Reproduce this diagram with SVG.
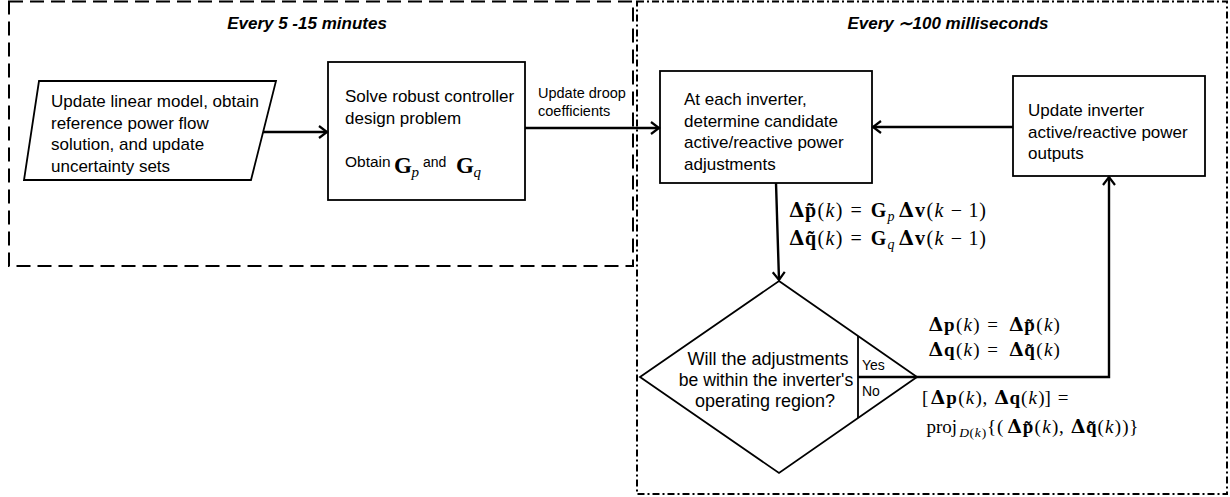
<svg xmlns="http://www.w3.org/2000/svg" width="1230" height="497" viewBox="0 0 1230 497">
<style>
.box{fill:#fff;stroke:#000;stroke-width:1.8}
.frame{fill:none;stroke:#000;stroke-width:2}
.conn{fill:none;stroke:#000;stroke-width:2.4}
.sep{fill:none;stroke:#000;stroke-width:1.8}
.t{font-family:"Liberation Sans",Arial,sans-serif;font-size:17px;fill:#000}
.title{font-family:"Liberation Sans",Arial,sans-serif;font-size:17px;font-weight:bold;font-style:italic;fill:#000}
.m{font-family:"Liberation Serif","Times New Roman",serif;font-size:19px;fill:#000}
.D{font-family:"DejaVu Serif",serif;font-weight:bold;font-style:normal}
.b{font-weight:bold}
.i{font-style:italic}
</style>
<defs>
<marker id="ah" markerUnits="userSpaceOnUse" markerWidth="14" markerHeight="20" viewBox="-12 -10 14 20" refX="0" refY="0" orient="auto">
<path d="M-8,-6 L0,0 L-8,6" fill="none" stroke="#000" stroke-width="2.2"/>
</marker>
</defs>

<g id="frame-slow">
<rect class="frame" x="9" y="1.5" width="624" height="264.5" stroke-dasharray="14 7"/>
<text class="title" x="307" y="29" text-anchor="middle">Every 5 -15 minutes</text>
</g>
<g id="frame-fast">
<rect class="frame" x="637" y="1.5" width="590" height="492.5" stroke-dasharray="7 3 2 3"/>
<text class="title" x="948" y="29" text-anchor="middle">Every ∼100 milliseconds</text>
</g>

<g id="update-model">
<polygon class="box" points="39,81 276,81 251,180 24,180"/>
<text class="t" x="51" y="107">Update linear model, obtain</text>
<text class="t" x="51" y="128.5">reference power flow</text>
<text class="t" x="51" y="150">solution, and update</text>
<text class="t" x="51" y="171.5">uncertainty sets</text>
</g>

<g id="solve">
<rect class="box" x="328" y="62" width="197" height="138"/>
<text class="t" x="345" y="102">Solve robust controller</text>
<text class="t" x="345" y="123.5">design problem</text>
<text class="t" x="345" y="167" style="font-size:15.5px">Obtain</text>
<text class="m" y="173"><tspan x="394" class="b" style="font-size:23px">G</tspan><tspan x="411.5" class="i" style="font-size:15px" dy="4">p</tspan></text>
<text class="t" x="423" y="166.5" style="font-size:14px">and</text>
<text class="m" y="173"><tspan x="456" class="b" style="font-size:23px">G</tspan><tspan x="473.5" class="i" style="font-size:15px" dy="4">q</tspan></text>
</g>

<g id="candidate">
<rect class="box" x="660" y="71" width="212" height="112"/>
<text class="t" x="684" y="105">At each inverter,</text>
<text class="t" x="684" y="126.5">determine candidate</text>
<text class="t" x="684" y="148">active/reactive power</text>
<text class="t" x="684" y="169.5">adjustments</text>
</g>

<g id="update-outputs">
<rect class="box" x="1013" y="76" width="192" height="100"/>
<text class="t" x="1028" y="116">Update inverter</text>
<text class="t" x="1028" y="137.5">active/reactive power</text>
<text class="t" x="1028" y="159">outputs</text>
</g>

<g id="decision">
<polygon class="box" points="779,281 917,377 779,473 640,377"/>
<line class="sep" x1="858" y1="336" x2="858" y2="418"/>
<line class="conn" x1="858" y1="377" x2="917" y2="377"/>
<text class="t" x="768" y="365" text-anchor="middle" style="font-size:18px">Will the adjustments</text>
<text class="t" x="766" y="386" text-anchor="middle" style="font-size:17.6px">be within the inverter's</text>
<text class="t" x="765" y="407" text-anchor="middle" style="font-size:18px">operating region?</text>
<text class="t" x="862" y="370" style="font-size:14px">Yes</text>
<text class="t" x="862" y="396" style="font-size:14px">No</text>
</g>

<g id="connectors">
<path class="conn" d="M263,132 H327" marker-end="url(#ah)"/>
<path class="conn" d="M525,128 H659" marker-end="url(#ah)"/>
<path class="conn" d="M1013,127 H873" marker-end="url(#ah)"/>
<path class="conn" d="M776,183 L779,280" marker-end="url(#ah)"/>
<path class="conn" d="M917,377 H1109 V177" marker-end="url(#ah)"/>
<text class="t" x="538" y="97.5" style="font-size:14.5px">Update droop</text>
<text class="t" x="538" y="116" style="font-size:14.5px">coefficients</text>
</g>

<g id="labels-math">
<text class="m" style="font-size:20px" y="217"><tspan x="789" class="D">Δ</tspan><tspan x="805" class="b">p&#x303;</tspan><tspan x="817.5">(</tspan><tspan x="825.5" class="i">k</tspan><tspan x="835.7">)</tspan><tspan x="850.6">=</tspan><tspan x="870.8" class="b">G</tspan><tspan x="887.6" class="i" style="font-size:14px" dy="4">p</tspan><tspan x="898.5" dy="-4" class="D">Δ</tspan><tspan x="914.9" class="b">v</tspan><tspan x="926.5">(</tspan><tspan x="934.6" class="i">k</tspan><tspan x="950.8">−</tspan><tspan x="968.6">1</tspan><tspan x="979.2">)</tspan></text>
<text class="m" style="font-size:20px" y="245"><tspan x="789" class="D">Δ</tspan><tspan x="805" class="b">q&#x303;</tspan><tspan x="817.5">(</tspan><tspan x="825.5" class="i">k</tspan><tspan x="835.7">)</tspan><tspan x="850.6">=</tspan><tspan x="870.8" class="b">G</tspan><tspan x="887.6" class="i" style="font-size:14px" dy="4">q</tspan><tspan x="898.5" dy="-4" class="D">Δ</tspan><tspan x="914.9" class="b">v</tspan><tspan x="926.5">(</tspan><tspan x="934.6" class="i">k</tspan><tspan x="950.8">−</tspan><tspan x="968.6">1</tspan><tspan x="979.2">)</tspan></text>

<text class="m" y="331"><tspan x="928.5" class="D">Δ</tspan><tspan x="944" class="b">p</tspan><tspan x="955.9">(</tspan><tspan x="963.5" class="i">k</tspan><tspan x="973.2">)</tspan><tspan x="987.3">=</tspan><tspan x="1009" class="D">Δ</tspan><tspan x="1024.3" class="b">p&#x303;</tspan><tspan x="1036.2">(</tspan><tspan x="1043.9" class="i">k</tspan><tspan x="1053.5">)</tspan></text>
<text class="m" y="356"><tspan x="928.5" class="D">Δ</tspan><tspan x="944" class="b">q</tspan><tspan x="955.9">(</tspan><tspan x="963.5" class="i">k</tspan><tspan x="973.2">)</tspan><tspan x="987.3">=</tspan><tspan x="1009" class="D">Δ</tspan><tspan x="1024.3" class="b">q&#x303;</tspan><tspan x="1036.2">(</tspan><tspan x="1043.9" class="i">k</tspan><tspan x="1053.5">)</tspan></text>

<text class="m" y="404"><tspan x="922">[</tspan><tspan x="930.5" class="D">Δ</tspan><tspan x="946.2" class="b">p</tspan><tspan x="958.2">(</tspan><tspan x="965.8" class="i">k</tspan><tspan x="975.4">)</tspan><tspan x="982.6">,</tspan><tspan x="994.3" class="D">Δ</tspan><tspan x="1009.4" class="b">q</tspan><tspan x="1021">(</tspan><tspan x="1028.6" class="i">k</tspan><tspan x="1038.3">)</tspan><tspan x="1044.6">]</tspan><tspan x="1057.8">=</tspan></text>
<text class="m" y="433"><tspan x="926.5">proj</tspan><tspan x="959.3" class="i" style="font-size:13.5px" dy="4">D</tspan><tspan x="969.6" style="font-size:13.5px">(</tspan><tspan x="974.8" class="i" style="font-size:13.5px">k</tspan><tspan x="981.7" style="font-size:13.5px">)</tspan><tspan x="987.1" dy="-4">{</tspan><tspan x="996.9">(</tspan><tspan x="1007.2" class="D">Δ</tspan><tspan x="1022.7" class="b">p&#x303;</tspan><tspan x="1034.6">(</tspan><tspan x="1042.2" class="i">k</tspan><tspan x="1051.9">)</tspan><tspan x="1059">,</tspan><tspan x="1070.7" class="D">Δ</tspan><tspan x="1085.9" class="b">q&#x303;</tspan><tspan x="1097.5">(</tspan><tspan x="1105.1" class="i">k</tspan><tspan x="1114.8">)</tspan><tspan x="1122.2">)</tspan><tspan x="1129.2">}</tspan></text>
</g>
</svg>
